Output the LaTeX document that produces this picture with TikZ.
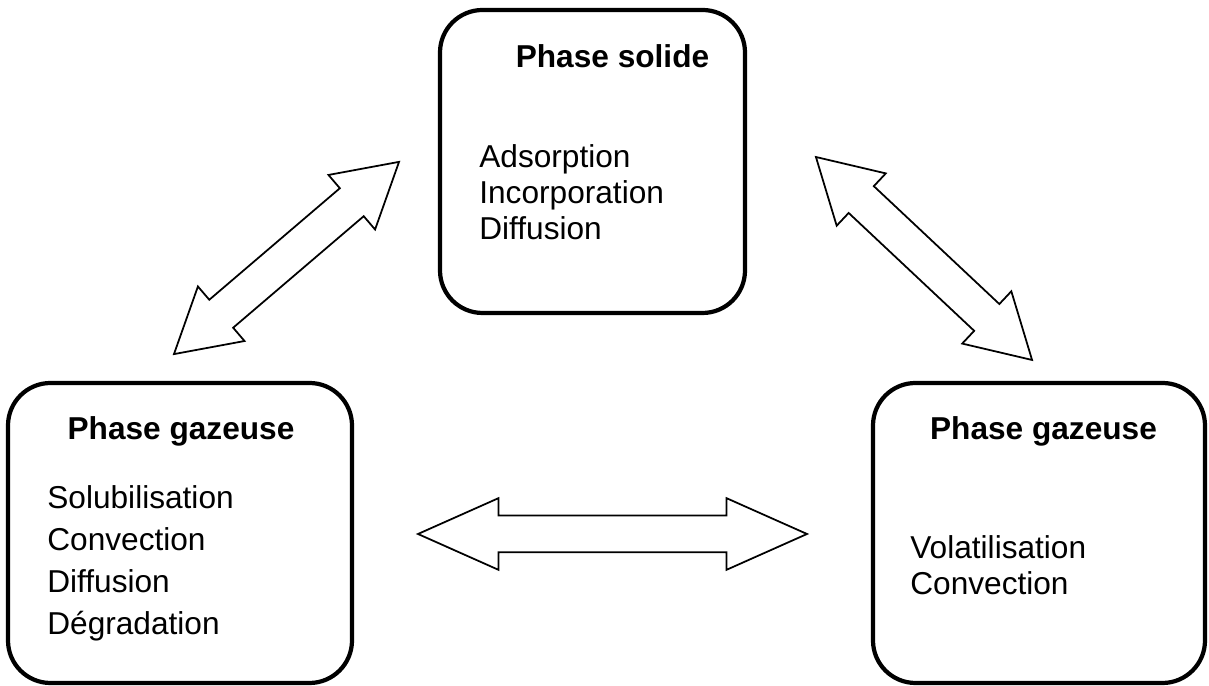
\documentclass[tikz,border=0pt]{standalone}
\usepackage{fontspec}
\setmainfont{Liberation Sans}
\usetikzlibrary{shapes.arrows}

\begin{document}
\begin{tikzpicture}[line join=miter]
    \tikzstyle{phase}=[draw, line width=2.4pt, rounded corners=0.85cm, inner sep=0pt]
    \tikzstyle{titre}=[anchor=base, font=\fontsize{18}{20}\selectfont\bfseries, inner sep=0pt]
    \tikzstyle{item}=[anchor=base west, font=\fontsize{18}{20}\selectfont, inner sep=0pt]
    \tikzstyle{echange}=[double arrow, draw, line width=1pt, inner sep=0pt, inner ysep=0.35cm, double arrow head extend=0.35cm]

    \useasboundingbox (0,0) rectangle (24.18,13.72);

    % the three phases
    \node[phase, minimum width=6.1cm, minimum height=6.06cm] (sol) at (11.85,10.49) {};
    \node[phase, minimum width=6.88cm, minimum height=6cm] (gl) at (3.6,3.06) {};
    \node[phase, minimum width=6.64cm, minimum height=6cm] (gr) at (20.78,3.06) {};

    % titles
    \node[titre] (sol-t) at (12.25,12.36) {Phase solide};
    \node[titre] (gl-t) at (3.62,4.92) {Phase gazeuse};
    \node[titre] (gr-t) at (20.87,4.92) {Phase gazeuse};

    % processes in each phase
    \foreach \txt [count=\i] in {Adsorption,Incorporation,Diffusion}
        \node[item] (sol-\i) at (9.58,{10.36-0.72*(\i-1)}) {\txt};
    \foreach \txt [count=\i] in {Solubilisation,Convection,Diffusion,Dégradation}
        \node[item] (gl-\i) at (0.94,{3.54-0.84*(\i-1)}) {\txt};
    \foreach \txt [count=\i] in {Volatilisation,Convection}
        \node[item] (gr-\i) at (18.2,{2.54-0.72*(\i-1)}) {\txt};

    % exchanges between phases
    \node[echange, double arrow tip angle=60, minimum height=5.92cm, rotate=40.5] (e-gl-sol) at (5.73,8.56) {};
    \node[echange, double arrow tip angle=60, minimum height=5.93cm, rotate=-43.2] (e-sol-gr) at (18.48,8.55) {};
    \node[echange, double arrow tip angle=48, minimum height=7.78cm] (e-gl-gr) at (12.25,3.04) {};
\end{tikzpicture}
\end{document}
